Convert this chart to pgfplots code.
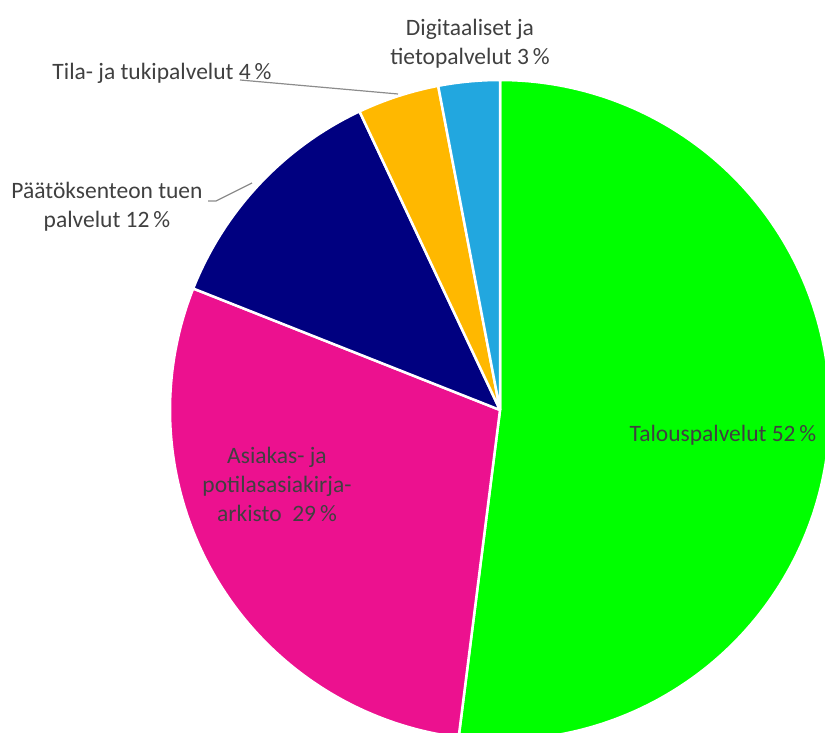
\documentclass[border=0pt]{standalone}
\usepackage{fontspec}
\setmainfont{Carlito}
\usepackage{pgfplots}
\usepackage{pgfplotstable}
\pgfplotsset{compat=1.18}
\definecolor{talgreen}{HTML}{00FF00}
\definecolor{aspink}{HTML}{EC118F}
\definecolor{panavy}{HTML}{000080}
\definecolor{tiyellow}{HTML}{FFB800}
\definecolor{diblue}{HTML}{22A7DF}
\definecolor{labgray}{HTML}{404040}
\definecolor{leadgray}{HTML}{8C8C8C}
\tikzset{lab/.style={font=\fontsize{23.5}{29}\selectfont, text=labgray, align=center, inner sep=0pt}}
\pgfplotstableread{
value color
52 talgreen
29 aspink
12 panavy
4 tiyellow
3 diblue
}\piedata
\begin{document}
\begin{tikzpicture}
\begin{axis}[
  scale only axis, width=825pt, height=733pt,
  xmin=0, xmax=825, ymin=-733, ymax=0,
  hide axis, clip=true,
]
\xdef\cum{0}
\pgfplotsforeachungrouped \i in {0,...,4}{%
  \pgfplotstablegetelem{\i}{value}\of\piedata
  \let\val\pgfplotsretval
  \pgfplotstablegetelem{\i}{color}\of\piedata
  \let\col\pgfplotsretval
  \pgfmathsetmacro\a{90-3.6*\cum}%
  \pgfmathsetmacro\newcum{\cum+\val}%
  \xdef\cum{\newcum}%
  \pgfmathsetmacro\b{90-3.6*\cum}%
  \edef\temp{\noexpand\addplot[fill=\col, draw=white, line width=2.5pt, line join=round, domain=\b:\a, samples=150] ({500+330*cos(x)},{-410+330*sin(x)}) -- (axis cs:500,-410) -- cycle;}%
  \temp
}
% leader lines
\addplot[leadgray, line width=1.2pt] coordinates {(240,-80) (398,-94)};
\addplot[leadgray, line width=1.2pt] coordinates {(208,-201) (216,-201) (252,-183)};
% labels
\node[lab] at (axis cs:470,-44) {Digitaaliset ja\\tietopalvelut 3\,\%};
\node[lab] at (axis cs:162,-73) {Tila-\ ja tukipalvelut 4\,\%};
\node[lab] at (axis cs:107,-207) {Päätöksenteon tuen\\palvelut 12\,\%};
\node[lab] at (axis cs:277,-484) {Asiakas- ja\\potilasasiakirja-\\arkisto\ \ 29\,\%};
\node[lab] at (axis cs:723,-435) {Talouspalvelut 52\,\%};
\end{axis}
\pgfresetboundingbox
\path (current axis.south west) rectangle (current axis.north east);
\end{tikzpicture}
\end{document}
